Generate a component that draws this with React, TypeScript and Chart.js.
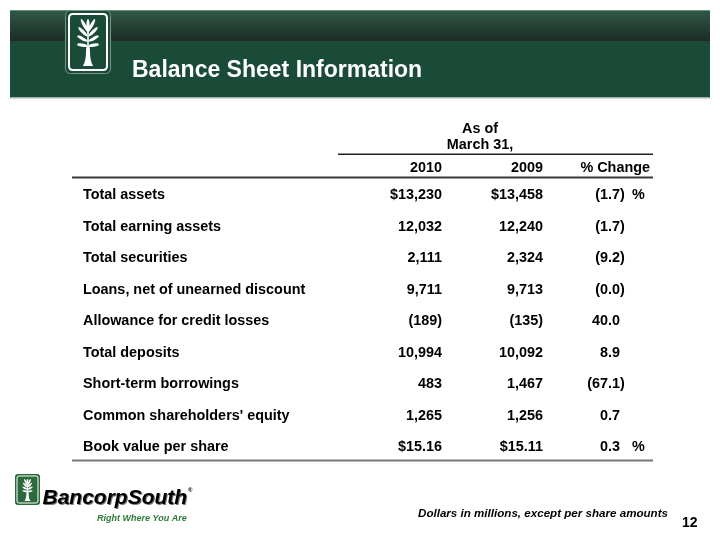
import { useEffect, useRef } from "react";
import { Chart, registerables } from "chart.js";

Chart.register(...registerables);

// ---------- data ----------
const title = "Balance Sheet Information";
const headerTop = "As of";
const headerSub = "March 31,";
const columnHeaders = ["2010", "2009", "% Change"];
const rowLabels = [
  "Total assets",
  "Total earning assets",
  "Total securities",
  "Loans, net of unearned discount",
  "Allowance for credit losses",
  "Total deposits",
  "Short-term borrowings",
  "Common shareholders' equity",
  "Book value per share",
];
const values2010 = [13230, 12032, 2111, 9711, -189, 10994, 483, 1265, 15.16];
const values2009 = [13458, 12240, 2324, 9713, -135, 10092, 1467, 1256, 15.11];
const pctChange = [-1.7, -1.7, -9.2, -0.0, 40.0, 8.9, -67.1, 0.7, 0.3];
const dollarRows = [0, 8];
const perShareRows = [8];
const percentSignRows = [0, 8];
const footnote = "Dollars in millions, except per share amounts";
const pageNumber = "12";
const brandName = "BancorpSouth";
const brandTagline = "Right Where You Are";

// ---------- layout / style ----------
const FONT = '"Liberation Sans", Arial, Helvetica, sans-serif';
const W = 720;
const H = 536;
const LABEL_X = 83;
const COL_RIGHT = [442, 543, 620];
const PCT_SIGN_X = 632;
const TABLE_LEFT = 72;
const TABLE_RIGHT = 653;
const BODY_FONT = `bold 14.4px ${FONT}`;

function withCommas(s: string) {
  const [i, d] = s.split(".");
  const ii = i.replace(/\B(?=(\d{3})+(?!\d))/g, ",");
  return d !== undefined ? ii + "." + d : ii;
}

function fmtAmount(v: number, row: number) {
  const neg = v < 0;
  const abs = Math.abs(v);
  let s = perShareRows.includes(row) ? abs.toFixed(2) : withCommas(String(Math.round(abs)));
  if (dollarRows.includes(row)) s = "$" + s;
  return neg ? "(" + s + ")" : s;
}

function roundRect(ctx: CanvasRenderingContext2D, x: number, y: number, w: number, h: number, r: number) {
  ctx.beginPath();
  ctx.moveTo(x + r, y);
  ctx.lineTo(x + w - r, y);
  ctx.quadraticCurveTo(x + w, y, x + w, y + r);
  ctx.lineTo(x + w, y + h - r);
  ctx.quadraticCurveTo(x + w, y + h, x + w - r, y + h);
  ctx.lineTo(x + r, y + h);
  ctx.quadraticCurveTo(x, y + h, x, y + h - r);
  ctx.lineTo(x, y + r);
  ctx.quadraticCurveTo(x, y, x + r, y);
  ctx.closePath();
}

function drawTree(ctx: CanvasRenderingContext2D, cx: number, top: number, bottom: number, halfW: number) {
  const h = bottom - top;
  const Wd = halfW * 2;
  ctx.save();
  ctx.fillStyle = "#ffffff";
  // trunk
  const trunkTop = bottom - 0.4 * h;
  ctx.beginPath();
  ctx.moveTo(cx - 0.2 * Wd, bottom);
  ctx.quadraticCurveTo(cx - 0.07 * Wd, bottom - 0.08 * h, cx - 0.07 * Wd, trunkTop);
  ctx.lineTo(cx + 0.07 * Wd, trunkTop);
  ctx.quadraticCurveTo(cx + 0.07 * Wd, bottom - 0.08 * h, cx + 0.2 * Wd, bottom);
  ctx.closePath();
  ctx.fill();
  // center stem + leaf
  ctx.fillRect(cx - 0.03 * Wd, top + 0.2 * h, 0.06 * Wd, trunkTop - top - 0.18 * h);
  ctx.beginPath();
  ctx.ellipse(cx, top + 0.15 * h, 0.065 * Wd, 0.15 * h, 0, 0, Math.PI * 2);
  ctx.fill();
  // side leaves
  for (let i = 0; i < 4; i++) {
    const baseY = top + h * (0.28 + i * 0.1);
    const ang = ((28 + i * 17) * Math.PI) / 180;
    const len = h * (0.3 - i * 0.025);
    for (const s of [-1, 1]) {
      const dx = Math.sin(ang) * s;
      const dy = -Math.cos(ang);
      const mx = cx + dx * len * 0.55;
      const my = baseY + dy * len * 0.55;
      ctx.beginPath();
      ctx.ellipse(mx, my, len / 2, 0.06 * Wd, Math.atan2(dy, dx), 0, Math.PI * 2);
      ctx.fill();
    }
  }
  ctx.restore();
}

const slidePlugin = {
  id: "slide",
  beforeDraw(chart: any) {
    const ctx: CanvasRenderingContext2D = chart.ctx;
    ctx.save();
    ctx.fillStyle = "#ffffff";
    ctx.fillRect(0, 0, W, H);

    // banner
    const g = ctx.createLinearGradient(0, 10, 0, 41);
    g.addColorStop(0, "#2f5a46");
    g.addColorStop(1, "#1d2b25");
    ctx.fillStyle = g;
    ctx.fillRect(10, 10, 700, 31);
    ctx.fillStyle = "#1a4a38";
    ctx.fillRect(10, 41, 700, 56);
    ctx.fillStyle = "#9fb3a7";
    ctx.fillRect(10, 97, 700, 1.5);
    ctx.fillStyle = "#6f8a7c";
    ctx.fillRect(10, 10, 700, 1);

    // header logo
    roundRect(ctx, 65.5, 10.5, 45, 63, 5);
    ctx.fillStyle = "#1a4a38";
    ctx.fill();
    ctx.strokeStyle = "#7c9486";
    ctx.lineWidth = 1;
    ctx.stroke();
    roundRect(ctx, 69, 14, 38, 56, 4);
    ctx.strokeStyle = "#ffffff";
    ctx.lineWidth = 2;
    ctx.stroke();
    drawTree(ctx, 88, 19, 66, 13);

    // title
    ctx.fillStyle = "#ffffff";
    ctx.font = `bold 23px ${FONT}`;
    ctx.textAlign = "left";
    ctx.textBaseline = "alphabetic";
    ctx.fillText(title, 132, 77);
    ctx.restore();
  },
  afterDraw(chart: any) {
    const ctx: CanvasRenderingContext2D = chart.ctx;
    const yScale = chart.scales.y;
    ctx.save();
    ctx.fillStyle = "#000000";
    ctx.textBaseline = "alphabetic";
    ctx.font = BODY_FONT;

    // column header block
    ctx.textAlign = "center";
    ctx.fillText(headerTop, 480, 133);
    ctx.fillText(headerSub, 480, 149);
    ctx.fillStyle = "#222222";
    ctx.fillRect(338, 153.5, TABLE_RIGHT - 338, 1.5);
    ctx.fillStyle = "#000000";
    ctx.textAlign = "right";
    columnHeaders.forEach((h, i) => {
      const x = i === 2 ? 650 : COL_RIGHT[i];
      ctx.fillText(h, x, 172);
    });
    ctx.fillStyle = "#3a3a3a";
    ctx.fillRect(TABLE_LEFT, 176.5, TABLE_RIGHT - TABLE_LEFT, 2);

    // rows
    ctx.fillStyle = "#000000";
    rowLabels.forEach((label, i) => {
      const y = yScale.getPixelForValue(i) + 5;
      ctx.textAlign = "left";
      ctx.fillText(label, LABEL_X, y);
      ctx.textAlign = "right";
      ctx.fillText(fmtAmount(values2010[i], i), COL_RIGHT[0], y);
      ctx.fillText(fmtAmount(values2009[i], i), COL_RIGHT[1], y);
      const p = pctChange[i];
      const neg = p < 0 || Object.is(p, -0);
      const s = Math.abs(p).toFixed(1);
      ctx.fillText(s, COL_RIGHT[2], y);
      if (neg) {
        const w = ctx.measureText(s).width;
        ctx.fillText("(", COL_RIGHT[2] - w, y);
        ctx.textAlign = "left";
        ctx.fillText(")", COL_RIGHT[2], y);
      }
      if (percentSignRows.includes(i)) {
        ctx.textAlign = "left";
        ctx.fillText("%", PCT_SIGN_X, y);
      }
    });
    ctx.fillStyle = "#777777";
    ctx.fillRect(TABLE_LEFT, 459.5, TABLE_RIGHT - TABLE_LEFT, 2);

    // footer
    ctx.fillStyle = "#000000";
    ctx.textAlign = "right";
    ctx.font = `italic bold 11.6px ${FONT}`;
    ctx.fillText(footnote, 668, 517);
    ctx.font = `bold 14px ${FONT}`;
    ctx.textAlign = "left";
    ctx.fillText(pageNumber, 682, 527);

    // footer logo
    roundRect(ctx, 15, 474, 25, 31, 3);
    ctx.fillStyle = "#2b6a3c";
    ctx.fill();
    roundRect(ctx, 17, 476, 21, 27, 2);
    ctx.strokeStyle = "#ffffff";
    ctx.lineWidth = 1;
    ctx.stroke();
    drawTree(ctx, 27.5, 479, 501, 7.5);
    ctx.font = `italic bold 21px ${FONT}`;
    ctx.fillStyle = "#777777";
    ctx.fillText(brandName, 43.5, 504.5);
    ctx.fillStyle = "#000000";
    ctx.fillText(brandName, 42.5, 503.5);
    ctx.font = `bold 6px ${FONT}`;
    ctx.fillText("®", 188, 492);
    ctx.font = `italic bold 9px ${FONT}`;
    ctx.fillStyle = "#2f7a3a";
    ctx.fillText(brandTagline, 97, 521);
    ctx.restore();
  },
};

export default function App() {
  const ref = useRef<HTMLCanvasElement | null>(null);
  useEffect(() => {
    if (!ref.current) return;
    const chart = new Chart(ref.current, {
      type: "scatter",
      data: {
        labels: rowLabels,
        datasets: [
          {
            data: rowLabels.map((_, i) => ({ x: 0, y: i })),
            pointRadius: 0,
            showLine: false,
          },
        ],
      },
      options: {
        responsive: false,
        animation: false,
        devicePixelRatio: 1,
        layout: { padding: { top: 194, bottom: H - 446, left: 0, right: 0 } },
        plugins: { legend: { display: false }, tooltip: { enabled: false } },
        events: [],
        scales: {
          x: { type: "linear", display: false, min: 0, max: W },
          y: { type: "category", labels: rowLabels, display: false, offset: false, reverse: false },
        },
      },
      plugins: [slidePlugin],
    });
    return () => chart.destroy();
  }, []);
  return (
    <div style={{ position: "absolute", left: 0, top: 0, width: W, height: H, background: "#fff" }}>
      <canvas ref={ref} width={W} height={H} style={{ width: W, height: H, display: "block" }} />
    </div>
  );
}
